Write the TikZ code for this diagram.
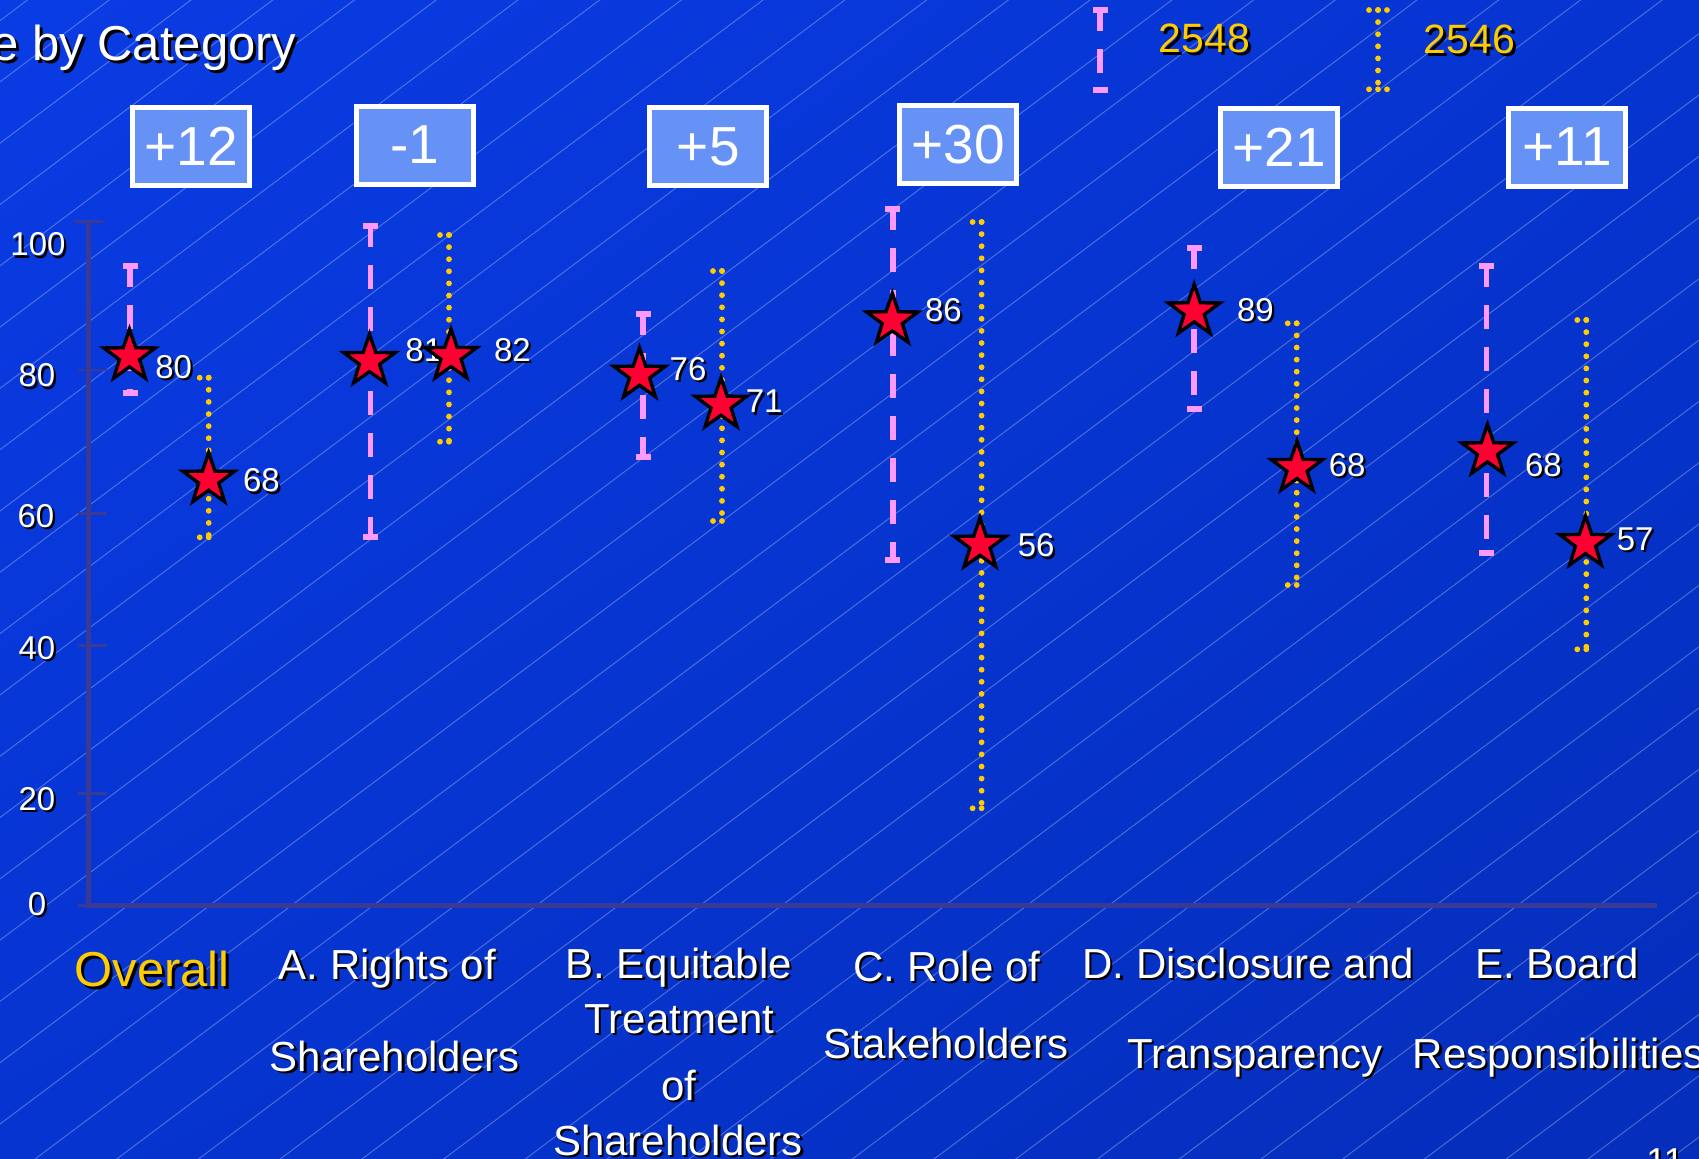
\documentclass[tikz,border=0pt]{standalone}
\usepackage{fontspec}
\setmainfont{Liberation Sans}
\usetikzlibrary{shapes.geometric,shadings}
\definecolor{bgA}{RGB}{10,60,228}
\definecolor{bgB}{RGB}{6,52,208}
\definecolor{bgC}{RGB}{4,46,186}
\definecolor{pinkc}{RGB}{255,153,255}
\definecolor{goldc}{RGB}{255,204,0}
\definecolor{starred}{RGB}{255,0,51}
\definecolor{boxc}{RGB}{102,146,245}
\definecolor{axisc}{RGB}{58,58,150}
\newcommand{\shd}[1]{\leavevmode\rlap{\kern1.1pt\raisebox{-1.1pt}{\textcolor{black}{#1}}}#1}
\newcommand{\shdb}[1]{\leavevmode\rlap{\kern1.5pt\raisebox{-1.5pt}{\textcolor{black}{#1}}}#1}
\newcommand{\pinkbar}[3]{%
  \draw[pinkline] (#1,#2-2.85) -- (#1,#3+2.85);
  \fill[pinkc] (#1-7.5,#2-2.85) rectangle (#1+7.5,#2+2.85);
  \fill[pinkc] (#1-7.5,#3-2.85) rectangle (#1+7.5,#3+2.85);}
\newcommand{\goldbar}[3]{%
  \draw[goldline] (#1,#2) -- (#1,#3);
  \draw[goldcap] (#1-9,#2) -- (#1+9,#2);
  \draw[goldcap] (#1-9,#3) -- (#1+9,#3);}
\begin{document}
\begin{tikzpicture}[x=0.5pt,y=-0.5pt,
  bgline/.style={draw=white, draw opacity=0.28, line width=0.5pt},
  axisline/.style={draw=axisc, line width=2.5pt},
  tickline/.style={draw=axisc, line width=1.3pt},
  pinkline/.style={draw=pinkc, line width=2.85pt, dash pattern=on 12pt off 9pt},
  goldline/.style={draw=goldc, line width=2.9pt, line cap=round, dash pattern=on 0pt off 6.05pt},
  goldcap/.style={draw=goldc, line width=2.9pt, line cap=round, dash pattern=on 0pt off 4.5pt},
  starmark/.style={star, star points=5, star point ratio=2.55, minimum size=27pt, inner sep=0pt, fill=starred, draw=black, line width=1.7pt},
  vallabel/.style={anchor=west, inner sep=0pt, text=white, font=\fontsize{16.5}{18}\selectfont},
  ticklabel/.style={anchor=center, inner sep=0pt, text=white, font=\fontsize{16.5}{18}\selectfont},
  catlabel/.style={anchor=base, inner sep=0pt, text=white, font=\fontsize{21}{24}\selectfont},
  diffbox/.style={draw=white, line width=2.5pt, fill=boxc, minimum width=58.5pt, minimum height=39pt, inner sep=0pt, text=white, font=\fontsize{27.5}{30}\selectfont},
  legendlabel/.style={anchor=base west, inner sep=0pt, text=goldc, font=\fontsize{20.5}{23}\selectfont}]
\useasboundingbox (0,0) rectangle (1699,1158);
\clip (0,0) rectangle (1699,1158);
\shade[upper left=bgA, upper right=bgB, lower left=bgB, lower right=bgC] (0,0) rectangle (1699,1158);
\foreach \k in {-14,...,27} \draw[bgline] (0,817.5+61.3*\k) -- (1699,817.5+61.3*\k-1274.25);

% title
\node[anchor=base west, inner sep=0pt, text=white, font=\fontsize{24.5}{28}\selectfont] (title) at (-9,60) {\shdb{e by Category}};

% legend
\pinkbar{1100}{10.3}{90}
\goldbar{1378}{10}{89.3}
\node[legendlabel] (leg1) at (1158.3,52.7) {\shdb{2548}};
\node[legendlabel] (leg2) at (1423.5,53.3) {\shdb{2546}};

% difference boxes
\node[diffbox] (b0) at (191.3,146.5) {+12};
\node[diffbox] (b1) at (414.7,145) {-1};
\node[diffbox] (b2) at (708.3,146.5) {+5};
\node[diffbox] (b3) at (958.3,144.5) {+30};
\node[diffbox] (b4) at (1279,147) {+21};
\node[diffbox] (b5) at (1567,147) {+11};

% axes
\draw[axisline] (88,220) -- (88,905.7) -- (1657,905.7);
\draw[tickline] (74,221.7) -- (103,221.7);
\foreach \yy in {370,513.5,645.7,793.3,905.7} \draw[tickline] (78,\yy) -- (107,\yy);
\node[ticklabel] (t100) at (38,245.7) {\shd{100}};
\node[ticklabel] (t80) at (37,376.7) {\shd{80}};
\node[ticklabel] (t60) at (36,517.5) {\shd{60}};
\node[ticklabel] (t40) at (37,649.3) {\shd{40}};
\node[ticklabel] (t20) at (37,800) {\shd{20}};
\node[ticklabel] (t0) at (37,905) {\shd{0}};

% bars
\pinkbar{130}{266}{393.3}
\goldbar{208.7}{377.7}{537.3}
\pinkbar{370.5}{226}{536.7}
\goldbar{449}{235}{441.7}
\pinkbar{643}{314}{457.3}
\goldbar{722}{271}{521}
\pinkbar{892.8}{209}{560}
\goldbar{981.6}{222}{808.3}
\pinkbar{1194.3}{248.3}{409.3}
\goldbar{1296.7}{323.3}{585}
\pinkbar{1486.6}{266}{552.7}
\goldbar{1586.3}{320}{649.3}

% stars and values
\node[starmark] (p0) at (129.5,356.3) {};
\node[vallabel] (lp0) at (155,368) {\shd{80}};
\node[starmark] (g0) at (208.7,479.7) {};
\node[vallabel] (lg0) at (242.7,481.7) {\shd{68}};
\node[starmark] (p1) at (369.5,361) {};
\node[vallabel] (lp1) at (405,351) {\shd{81}};
\node[starmark] (g1) at (451,356) {};
\node[vallabel] (lg1) at (493.7,351.5) {\shd{82}};
\node[starmark] (p2) at (639.5,374.7) {};
\node[vallabel] (lp2) at (669.3,370) {\shd{76}};
\node[starmark] (g2) at (721,404.7) {};
\node[vallabel] (lg2) at (745.4,402.7) {\shd{71}};
\node[starmark] (p3) at (892.3,320.3) {};
\node[vallabel] (lp3) at (924.7,311.7) {\shd{86}};
\node[starmark] (g3) at (980,544.7) {};
\node[vallabel] (lg3) at (1017.4,546.7) {\shd{56}};
\node[starmark] (p4) at (1194.2,311.3) {};
\node[vallabel] (lp4) at (1236.7,311) {\shd{89}};
\node[starmark] (g4) at (1297,468) {};
\node[vallabel] (lg4) at (1328.4,466) {\shd{68}};
\node[starmark] (p5) at (1487.5,451.3) {};
\node[vallabel] (lp5) at (1524.7,466) {\shd{68}};
\node[starmark] (g5) at (1585.5,543) {};
\node[vallabel] (lg5) at (1616.4,540) {\shd{57}};

% category labels
\node[anchor=base, inner sep=0pt, text=goldc, font=\fontsize{24.5}{28}\selectfont] (c0) at (152,986.7) {\shdb{Overall}};
\node[catlabel] (c1a) at (387.5,979.3) {\shd{A. Rights of}};
\node[catlabel] (c1b) at (394.8,1071.7) {\shd{Shareholders}};
\node[catlabel] (c2a) at (678.8,978.3) {\shd{B. Equitable}};
\node[catlabel] (c2b) at (679.6,1033.3) {\shd{Treatment}};
\node[catlabel] (c2c) at (679,1100) {\shd{of}};
\node[catlabel] (c2d) at (678,1155) {\shd{Shareholders}};
\node[catlabel] (c3a) at (947,981.7) {\shd{C. Role of}};
\node[catlabel] (c3b) at (945.6,1058.3) {\shd{Stakeholders}};
\node[catlabel] (c4a) at (1248.4,978.3) {\shd{D. Disclosure and}};
\node[catlabel] (c4b) at (1255,1068.3) {\shd{Transparency}};
\node[catlabel] (c5a) at (1557,978.3) {\shd{E. Board}};
\node[catlabel, anchor=base west] (c5b) at (1412.4,1068.3) {\shd{Responsibilities}};

% page number
\node[anchor=north west, inner sep=0pt, text=white, font=\fontsize{18}{20}\selectfont] (pg) at (1646,1148) {\shd{11}};
\end{tikzpicture}
\end{document}
